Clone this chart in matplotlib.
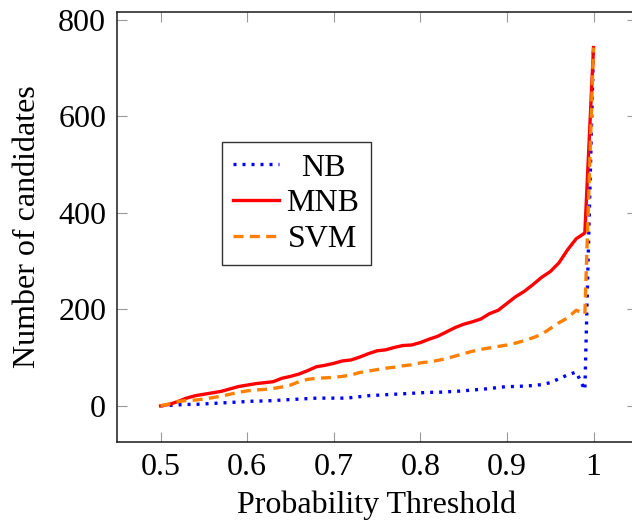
import matplotlib
matplotlib.use("Agg")
import matplotlib.pyplot as plt
import numpy as np

thresholds = [0.50, 0.51, 0.52, 0.53, 0.54, 0.55, 0.56, 0.57, 0.58, 0.59,
              0.60, 0.61, 0.62, 0.63, 0.64, 0.65, 0.66, 0.67, 0.68, 0.69,
              0.70, 0.71, 0.72, 0.73, 0.74, 0.75, 0.76, 0.77, 0.78, 0.79,
              0.80, 0.81, 0.82, 0.83, 0.84, 0.85, 0.86, 0.87, 0.88, 0.89,
              0.90, 0.91, 0.92, 0.93, 0.94, 0.95, 0.96, 0.97, 0.98, 0.99, 1.00]

nb = [0, 1, 2, 3, 3, 4, 5, 6, 7, 8,
      9, 10, 10, 11, 12, 13, 14, 15, 16, 16,
      16, 16, 17, 19, 21, 22, 23, 24, 25, 26,
      27, 28, 28, 29, 30, 31, 33, 34, 36, 38,
      40, 40, 41, 42, 44, 48, 56, 64, 70, 33, 742]

mnb = [0, 3, 9, 16, 21, 24, 27, 30, 35, 40,
       43, 46, 48, 50, 57, 61, 66, 73, 81, 84,
       88, 93, 95, 101, 108, 114, 116, 121, 125, 126,
       131, 138, 144, 153, 162, 169, 174, 180, 191, 198,
       212, 226, 237, 251, 266, 278, 296, 323, 346, 358, 742]

svm = [0, 4, 9, 11, 12, 14, 17, 20, 24, 28,
       31, 33, 34, 36, 39, 43, 50, 55, 57, 58,
       59, 61, 64, 69, 72, 75, 78, 80, 83, 85,
       89, 91, 94, 98, 103, 108, 113, 117, 120, 123,
       126, 130, 135, 141, 148, 160, 172, 182, 198, 190, 742]

series_labels = ["NB", "MNB", "SVM"]
x_ticks = [0.5, 0.6, 0.7, 0.8, 0.9, 1.0]
x_tick_labels = ["0.5", "0.6", "0.7", "0.8", "0.9", "1"]
y_ticks = [0, 200, 400, 600, 800]

plt.rcParams['font.family'] = ['Liberation Serif', 'DejaVu Serif']
FS = 23

fig = plt.figure(figsize=(6.32, 5.25), dpi=100)
ax = fig.add_axes([0.1856, 0.1587, 0.822, 0.819])

lw = 2.4
ax.plot(thresholds, nb, color=(0, 0, 1), lw=lw, linestyle=(0, (0.9, 1.8)),
        dash_capstyle='butt', label=series_labels[0])
ax.plot(thresholds, mnb, color=(1, 0, 0), lw=lw, linestyle='-',
        label=series_labels[1])
ax.plot(thresholds, svm, color=(1, 0.5, 0), lw=lw, linestyle=(0, (3.0, 1.9)),
        dash_capstyle='butt', label=series_labels[2])

ax.set_xlim(0.45, 1.05)
ax.set_ylim(-74.2, 816.2)
ax.set_xticks(x_ticks)
ax.set_xticklabels(x_tick_labels)
ax.set_yticks(y_ticks)
ax.tick_params(direction='in', length=7, width=0.8, color='#9a9a9a',
               labelsize=FS, top=True, right=True, pad=8, labelcolor='black')
for sp in ax.spines.values():
    sp.set_linewidth(1.1)
    sp.set_color('#1a1a1a')

ax.set_xlabel("Probability Threshold", fontsize=FS, labelpad=6)
ax.set_ylabel("Number of candidates", fontsize=FS, labelpad=12)

leg = ax.legend(loc='upper left', bbox_to_anchor=(0.2015, 0.697),
                borderaxespad=0, fontsize=FS, frameon=True, fancybox=False,
                edgecolor='#333333', framealpha=1, handlelength=1.45,
                handletextpad=0.22, labelspacing=0.2, borderpad=0.35)
leg.get_frame().set_linewidth(1.0)

# center legend texts like pgfplots
fig.canvas.draw()
renderer = fig.canvas.get_renderer()
texts = leg.get_texts()
widths = [t.get_window_extent(renderer).width for t in texts]
wmax = max(widths)
for t, w in zip(texts, widths):
    t.set_position(((wmax - w) / 2.0, 0))

fig.savefig("out.png", dpi=100)
